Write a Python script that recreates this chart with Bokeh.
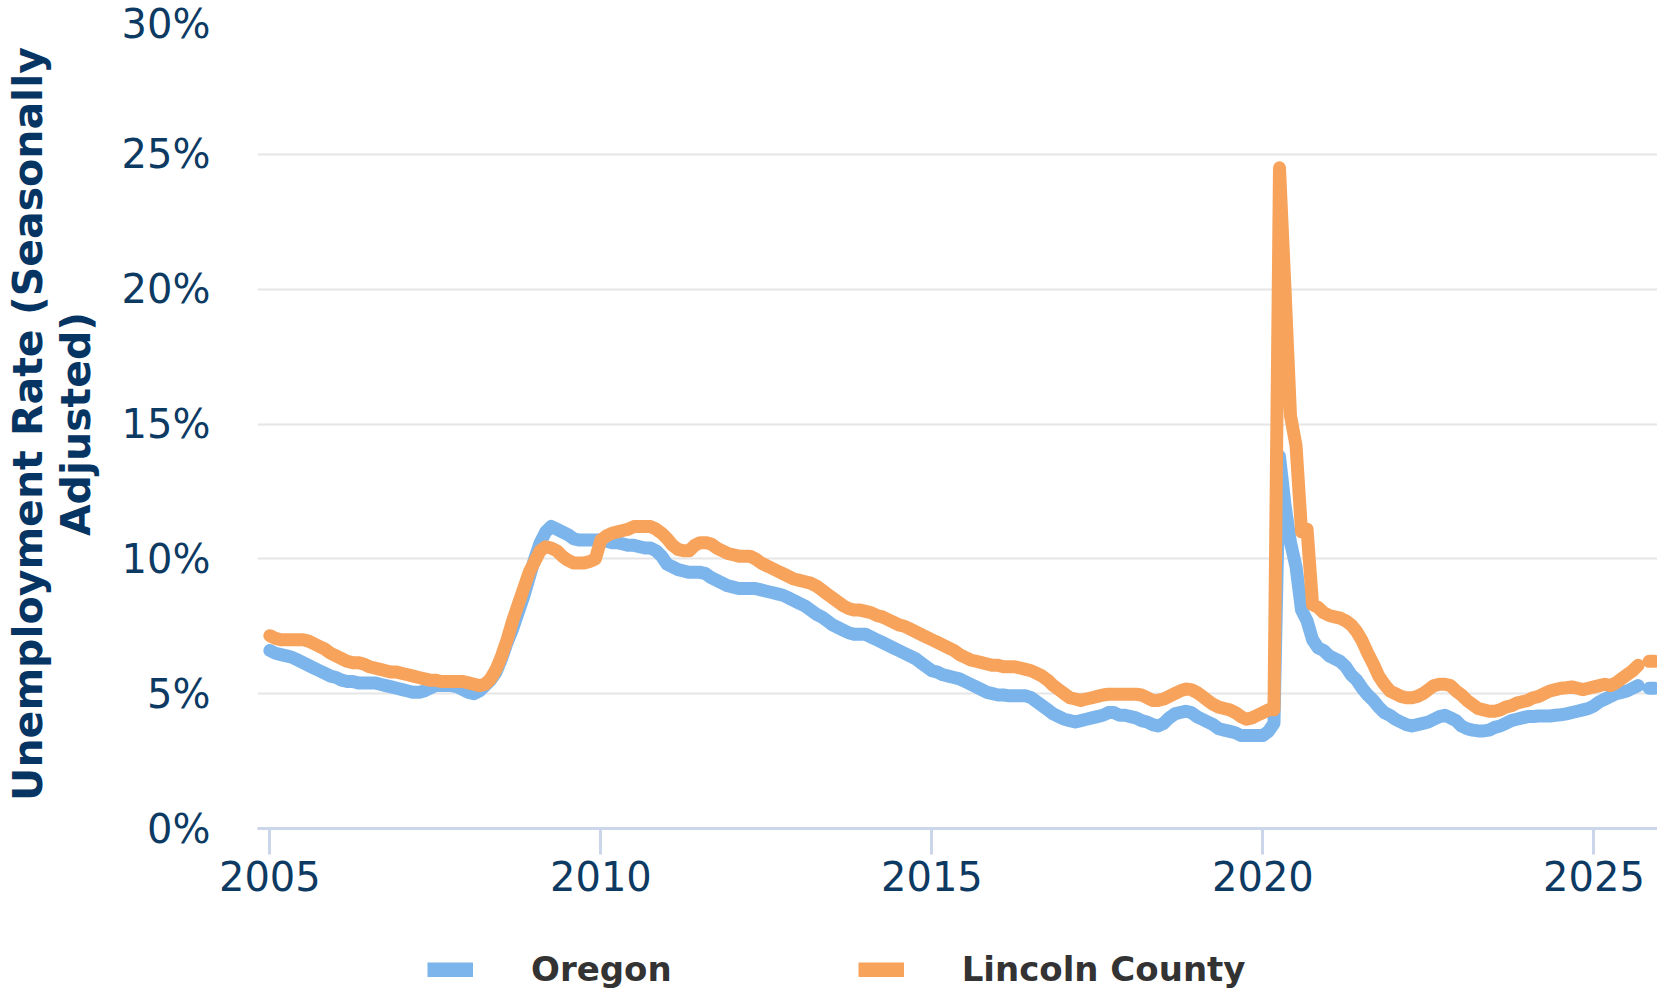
import math
from bokeh.plotting import figure
from bokeh.layouts import column
from bokeh.models import FixedTicker, Range1d, Legend, LegendItem
from bokeh.embed import file_html
from bokeh.resources import INLINE

# ---------------- data (monthly, Jan 2005 - Dec 2025; None = not published) -------------
series_names = ["Oregon", "Lincoln County"]
series_colors = ["#7cb5ec", "#f7a35c"]
first_year = 2005

oregon_rate = [
    6.6, 6.5, 6.45, 6.4, 6.35, 6.25, 6.15, 6.05, 5.95, 5.85, 5.75, 5.65,      # 2005
    5.6, 5.5, 5.45, 5.45, 5.4, 5.4, 5.4, 5.4, 5.35, 5.3, 5.25, 5.2,           # 2006
    5.15, 5.1, 5.05, 5.05, 5.1, 5.2, 5.3, 5.3, 5.3, 5.3, 5.25, 5.15,          # 2007
    5.05, 5.0, 5.1, 5.3, 5.5, 5.8, 6.3, 6.9, 7.4, 8.0, 8.6, 9.3,              # 2008
    10.0, 10.6, 11.0, 11.2, 11.1, 11.0, 10.9, 10.75, 10.7, 10.7, 10.7, 10.7,  # 2009
    10.7, 10.65, 10.6, 10.6, 10.55, 10.5, 10.5, 10.45, 10.4, 10.4, 10.3, 10.1,  # 2010
    9.8, 9.7, 9.6, 9.55, 9.5, 9.5, 9.5, 9.45, 9.3, 9.2, 9.1, 9.0,             # 2011
    8.95, 8.9, 8.9, 8.9, 8.9, 8.85, 8.8, 8.75, 8.7, 8.65, 8.55, 8.45,         # 2012
    8.35, 8.25, 8.1, 7.95, 7.85, 7.7, 7.55, 7.45, 7.35, 7.25, 7.2, 7.2,       # 2013
    7.2, 7.1, 7.0, 6.9, 6.8, 6.7, 6.6, 6.5, 6.4, 6.3, 6.15, 6.0,              # 2014
    5.85, 5.8, 5.7, 5.65, 5.6, 5.55, 5.45, 5.35, 5.25, 5.15, 5.05, 5.0,       # 2015
    4.95, 4.95, 4.92, 4.92, 4.92, 4.92, 4.85, 4.7, 4.55, 4.4, 4.25, 4.15,     # 2016
    4.05, 4.0, 3.95, 4.0, 4.05, 4.1, 4.15, 4.2, 4.3, 4.3, 4.2, 4.2,           # 2017
    4.15, 4.1, 4.0, 3.95, 3.85, 3.8, 3.9, 4.1, 4.25, 4.3, 4.35, 4.3,          # 2018
    4.15, 4.05, 3.95, 3.85, 3.7, 3.65, 3.6, 3.55, 3.45, 3.45, 3.45, 3.45,     # 2019
    3.45, 3.6, 3.9, 13.8, 12.0, 10.6, 9.7, 8.1, 7.7, 7.0, 6.7, 6.6,           # 2020
    6.4, 6.3, 6.2, 6.0, 5.7, 5.5, 5.2, 4.95, 4.75, 4.5, 4.3, 4.2,             # 2021
    4.05, 3.95, 3.85, 3.8, 3.85, 3.9, 3.95, 4.05, 4.15, 4.2, 4.1, 4.0,        # 2022
    3.8, 3.7, 3.65, 3.62, 3.62, 3.65, 3.75, 3.8, 3.9, 4.0, 4.05, 4.1,         # 2023
    4.15, 4.15, 4.17, 4.17, 4.17, 4.2, 4.22, 4.25, 4.3, 4.35, 4.4, 4.45,      # 2024
    4.55, 4.7, 4.8, 4.9, 5.0, 5.05, 5.1, 5.2, 5.3, None, 5.2, 5.2,            # 2025
]

lincoln_rate = [
    7.15, 7.05, 7.0, 7.0, 7.0, 7.0, 7.0, 6.95, 6.85, 6.75, 6.65, 6.5,         # 2005
    6.4, 6.3, 6.2, 6.15, 6.15, 6.1, 6.0, 5.95, 5.9, 5.85, 5.8, 5.8,           # 2006
    5.75, 5.7, 5.65, 5.6, 5.55, 5.5, 5.5, 5.45, 5.45, 5.45, 5.45, 5.45,       # 2007
    5.4, 5.35, 5.3, 5.35, 5.55, 5.9, 6.4, 7.0, 7.7, 8.3, 8.9, 9.5,            # 2008
    9.9, 10.3, 10.45, 10.4, 10.3, 10.1, 9.95, 9.85, 9.85, 9.85, 9.9, 10.0,    # 2009
    10.7, 10.85, 10.95, 11.0, 11.05, 11.1, 11.2, 11.2, 11.2, 11.2, 11.1, 10.95,  # 2010
    10.75, 10.5, 10.35, 10.3, 10.3, 10.5, 10.6, 10.6, 10.55, 10.4, 10.3, 10.2,   # 2011
    10.15, 10.1, 10.1, 10.1, 10.0, 9.85, 9.75, 9.65, 9.55, 9.45, 9.35, 9.25,  # 2012
    9.2, 9.15, 9.1, 9.0, 8.85, 8.7, 8.55, 8.4, 8.25, 8.15, 8.1, 8.1,          # 2013
    8.05, 8.0, 7.9, 7.85, 7.75, 7.65, 7.55, 7.5, 7.4, 7.3, 7.2, 7.1,          # 2014
    7.0, 6.9, 6.8, 6.7, 6.6, 6.45, 6.35, 6.25, 6.2, 6.15, 6.1, 6.05,          # 2015
    6.05, 6.0, 6.0, 6.0, 5.95, 5.9, 5.85, 5.75, 5.65, 5.5, 5.3, 5.15,         # 2016
    5.0, 4.85, 4.8, 4.75, 4.8, 4.85, 4.9, 4.95, 4.98, 4.98, 4.98, 4.98,       # 2017
    4.98, 4.98, 4.95, 4.85, 4.75, 4.75, 4.8, 4.9, 5.0, 5.1, 5.17, 5.15,       # 2018
    5.05, 4.9, 4.75, 4.6, 4.5, 4.45, 4.4, 4.3, 4.15, 4.05, 4.1, 4.2,          # 2019
    4.3, 4.4, 4.4, 24.5, 20.0, 15.3, 14.2, 11.0, 11.1, 8.3, 8.2, 8.0,         # 2020
    7.9, 7.85, 7.8, 7.7, 7.55, 7.3, 6.95, 6.5, 6.1, 5.65, 5.35, 5.1,          # 2021
    5.0, 4.9, 4.85, 4.85, 4.9, 5.0, 5.15, 5.3, 5.35, 5.35, 5.3, 5.1,          # 2022
    4.95, 4.75, 4.6, 4.45, 4.4, 4.35, 4.35, 4.4, 4.5, 4.55, 4.65, 4.7,        # 2023
    4.75, 4.85, 4.9, 5.0, 5.1, 5.15, 5.2, 5.22, 5.25, 5.2, 5.15, 5.2,         # 2024
    5.25, 5.3, 5.35, 5.3, 5.4, 5.55, 5.7, 5.85, 6.05, None, 6.2, 6.2,         # 2025
]

x_ticks = [2005, 2010, 2015, 2020, 2025]
x_tick_labels = ["2005", "2010", "2015", "2020", "2025"]
y_ticks = [0, 5, 10, 15, 20, 25, 30]
y_tick_labels = ["0%", "5%", "10%", "15%", "20%", "25%", "30%"]
y_title = "Unemployment Rate (Seasonally\nAdjusted)"

# ---------------- figure ---------------------------------------------------------------
FONT = "DejaVu Sans"
NAVY = "#0d3a62"
TITLE_NAVY = "#063563"

months = [first_year + i / 12.0 for i in range(len(oregon_rate))]


def clean(vals):
    return [float("nan") if v is None else v for v in vals]


p = figure(
    width=1657, height=908,
    output_backend="svg", toolbar_location=None,
    x_range=Range1d(2004.813, 2025.96), y_range=Range1d(0, 30),
    min_border_left=256, min_border_right=0, min_border_top=19, min_border_bottom=80,
)
p.outline_line_color = None
p.background_fill_color = "white"
p.border_fill_color = "white"

p.xgrid.visible = False
p.ygrid.grid_line_color = "#e6e6e6"
p.ygrid.grid_line_width = 2

# x axis
xa = p.xaxis[0]
xa.ticker = FixedTicker(ticks=x_ticks)
xa.major_label_overrides = dict(zip(x_ticks, x_tick_labels))
xa.axis_line_color = "#ccd6eb"
xa.axis_line_width = 3
xa.major_tick_line_color = "#ccd6eb"
xa.major_tick_line_width = 3
xa.major_tick_out = 26
xa.major_tick_in = 0
xa.minor_tick_line_color = None
xa.major_label_standoff = 6
xa.major_label_text_font = FONT
xa.major_label_text_font_size = "40px"
xa.major_label_text_color = NAVY

# y axis
ya = p.yaxis[0]
ya.ticker = FixedTicker(ticks=y_ticks)
ya.major_label_overrides = dict(zip(y_ticks, y_tick_labels))
ya.axis_line_color = None
ya.major_tick_line_color = None
ya.minor_tick_line_color = None
ya.major_tick_out = 0
ya.major_tick_in = 0
ya.major_label_standoff = 47
ya.major_label_text_font = FONT
ya.major_label_text_font_size = "40px"
ya.major_label_text_color = NAVY
ya.axis_label = y_title
ya.axis_label_text_font = FONT
ya.axis_label_text_font_size = "41px"
ya.axis_label_text_font_style = "bold"
ya.axis_label_text_color = TITLE_NAVY
ya.axis_label_text_line_height = 1.0
ya.axis_label_standoff = 19

# series
for name, vals, color in zip(series_names, [oregon_rate, lincoln_rate], series_colors):
    p.line(months, clean(vals), line_color=color, line_width=13,
           line_join="round", line_cap="round")

# ---------------- legend strip below the chart -------------------------------------------
lg = figure(
    width=1657, height=83,
    output_backend="svg", toolbar_location=None,
    x_range=Range1d(0, 1), y_range=Range1d(0, 1),
    min_border_left=0, min_border_right=0, min_border_top=0, min_border_bottom=0,
)
lg.axis.visible = False
lg.grid.visible = False
lg.outline_line_color = None
lg.background_fill_color = "white"
lg.border_fill_color = "white"

dummies = []
for color in series_colors:
    r = lg.line([float("nan")], [float("nan")], line_color=color, line_width=15, line_cap="butt")
    dummies.append(r)

legend = Legend(
    items=[LegendItem(label=n, renderers=[r]) for n, r in zip(series_names, dummies)],
    orientation="horizontal",
    location=(170, 2),
    glyph_width=46, glyph_height=15,
    label_standoff=58, spacing=186,
    margin=0, padding=0,
    border_line_color=None, background_fill_alpha=0,
    label_text_font=FONT, label_text_font_size="34px",
    label_text_font_style="bold", label_text_color="#333333",
)
lg.add_layout(legend)

layout = column(p, lg, spacing=0)
open("out.html", "w").write(file_html(layout, INLINE))
